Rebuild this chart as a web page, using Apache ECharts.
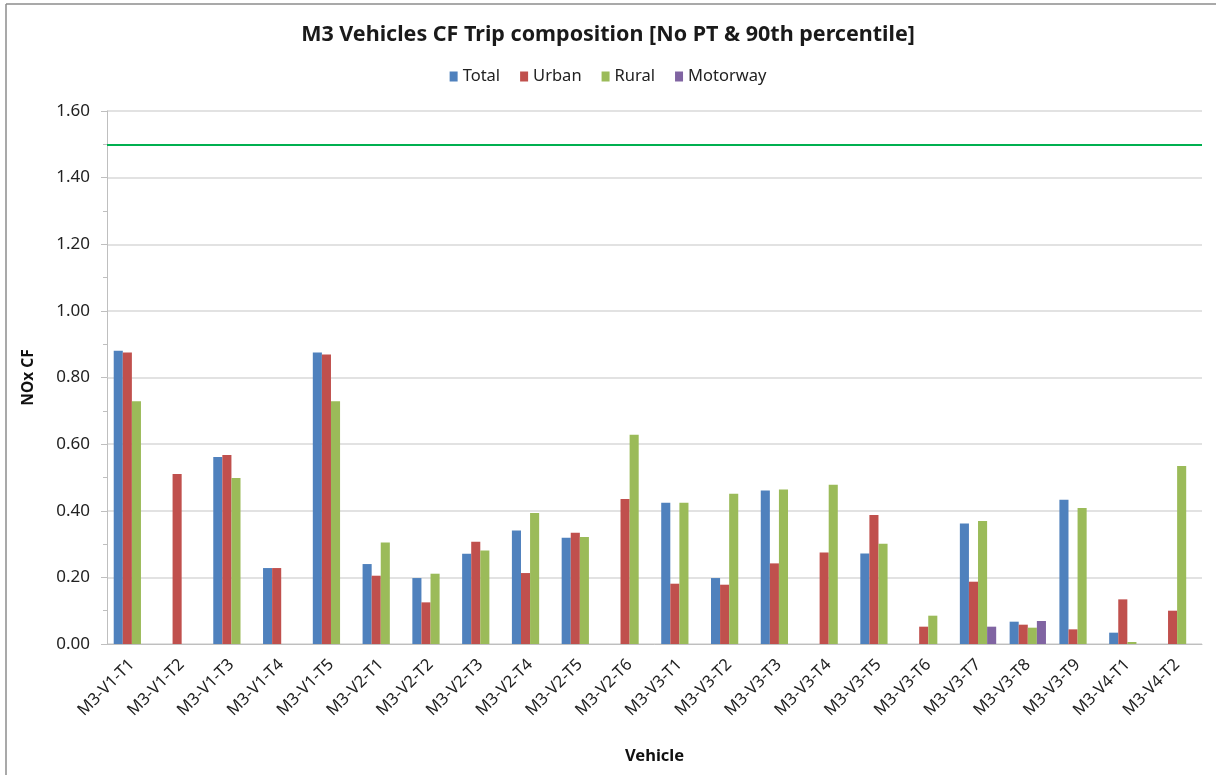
<!DOCTYPE html>
<html>
<head>
<meta charset="utf-8">
<script src="https://cdn.jsdelivr.net/npm/echarts@6/dist/echarts.min.js"></script>
<style>
html,body{margin:0;padding:0;background:#fff;}
#chart{width:1216px;height:775px;}
</style>
</head>
<body>
<div id="chart"></div>
<script>
const categories = ['M3-V1-T1','M3-V1-T2','M3-V1-T3','M3-V1-T4','M3-V1-T5','M3-V2-T1','M3-V2-T2','M3-V2-T3','M3-V2-T4','M3-V2-T5','M3-V2-T6','M3-V3-T1','M3-V3-T2','M3-V3-T3','M3-V3-T4','M3-V3-T5','M3-V3-T6','M3-V3-T7','M3-V3-T8','M3-V3-T9','M3-V4-T1','M3-V4-T2'];
const total    = [0.880, null, 0.561, 0.228, 0.875, 0.240, 0.198, 0.271, 0.341, 0.319, null, 0.424, 0.198, 0.461, null, 0.272, null, 0.362, 0.067, 0.433, 0.034, null];
const urban    = [0.875, 0.510, 0.567, 0.228, 0.869, 0.205, 0.125, 0.307, 0.213, 0.334, 0.435, 0.181, 0.178, 0.242, 0.275, 0.387, 0.052, 0.187, 0.058, 0.044, 0.134, 0.100];
const rural    = [0.729, null, 0.498, null, 0.729, 0.305, 0.211, 0.281, 0.393, 0.321, 0.628, 0.424, 0.451, 0.464, 0.478, 0.301, 0.085, 0.369, 0.049, 0.408, 0.006, 0.534];
const motorway = [null, null, null, null, null, null, null, null, null, null, null, null, null, null, null, null, null, 0.052, 0.069, null, null, null];
const limitValue = 1.5;
const yTicks = { min: 0, max: 1.6, interval: 0.2 };

const FONT = '"Noto Sans", "Open Sans", sans-serif';
const chart = echarts.init(document.getElementById('chart'), null, {renderer: 'canvas'});

function bar(name, data, color, extra) {
  return Object.assign({
    name: name, type: 'bar', data: data, barGap: '0%', barCategoryGap: '27%',
    itemStyle: { color: color }, emphasis: { disabled: true }
  }, extra || {});
}

chart.setOption({
  animation: false,
  backgroundColor: '#ffffff',
  title: {
    text: 'M3 Vehicles CF Trip composition [No PT & 90th percentile]',
    left: 'center', top: 19,
    textStyle: { fontFamily: FONT, fontSize: 21.5, fontWeight: 'bold', color: '#1a1a1a' }
  },
  legend: {
    top: 63, left: 'center',
    itemWidth: 8, itemHeight: 10, itemGap: 20,
    icon: 'rect',
    textStyle: { fontFamily: FONT, fontSize: 16.5, color: '#222' },
    data: ['Total', 'Urban', 'Rural', 'Motorway']
  },
  grid: { left: 107, right: 14, top: 111, bottom: 131, containLabel: false },
  xAxis: {
    type: 'category', data: categories,
    name: 'Vehicle', nameLocation: 'middle', nameGap: 104,
    nameTextStyle: { fontFamily: FONT, fontSize: 16.5, fontWeight: 'bold', color: '#111' },
    axisLine: { lineStyle: { color: '#bfbfbf', width: 1 } },
    axisTick: { show: false },
    axisLabel: { rotate: 45, interval: 0, margin: 18, fontFamily: FONT, fontSize: 16.5, color: '#222' }
  },
  yAxis: {
    type: 'value', min: yTicks.min, max: yTicks.max, interval: yTicks.interval,
    name: 'NOx CF', nameLocation: 'middle', nameGap: 70, nameRotate: 90,
    nameTextStyle: { fontFamily: FONT, fontSize: 15.5, fontWeight: 'bold', color: '#111' },
    axisLine: { show: true, lineStyle: { color: '#bfbfbf', width: 1 } },
    axisTick: { show: true, length: 6, lineStyle: { color: '#bfbfbf' } },
    minorTick: { show: true, splitNumber: 2, length: 4, lineStyle: { color: '#bfbfbf' } },
    axisLabel: { formatter: v => v.toFixed(2), margin: 17, fontFamily: FONT, fontSize: 17, color: '#222' },
    splitLine: { show: true, lineStyle: { color: '#d9d9d9', width: 1.5 } }
  },
  series: [
    bar('Total', total, '#4f81bd', {
      markLine: {
        silent: true, symbol: ['none', 'none'], label: { show: false },
        lineStyle: { color: '#00b050', width: 2, type: 'solid' },
        data: [{ yAxis: limitValue }]
      }
    }),
    bar('Urban', urban, '#c0504d'),
    bar('Rural', rural, '#9bbb59'),
    bar('Motorway', motorway, '#8064a2')
  ],
  graphic: [
    { type: 'line', shape: { x1: 6, y1: 4, x2: 1216, y2: 4 }, style: { stroke: '#8c8c8c', lineWidth: 1.5 } },
    { type: 'line', shape: { x1: 6, y1: 4, x2: 6, y2: 775 }, style: { stroke: '#8c8c8c', lineWidth: 1.5 } }
  ]
});
</script>
</body>
</html>
